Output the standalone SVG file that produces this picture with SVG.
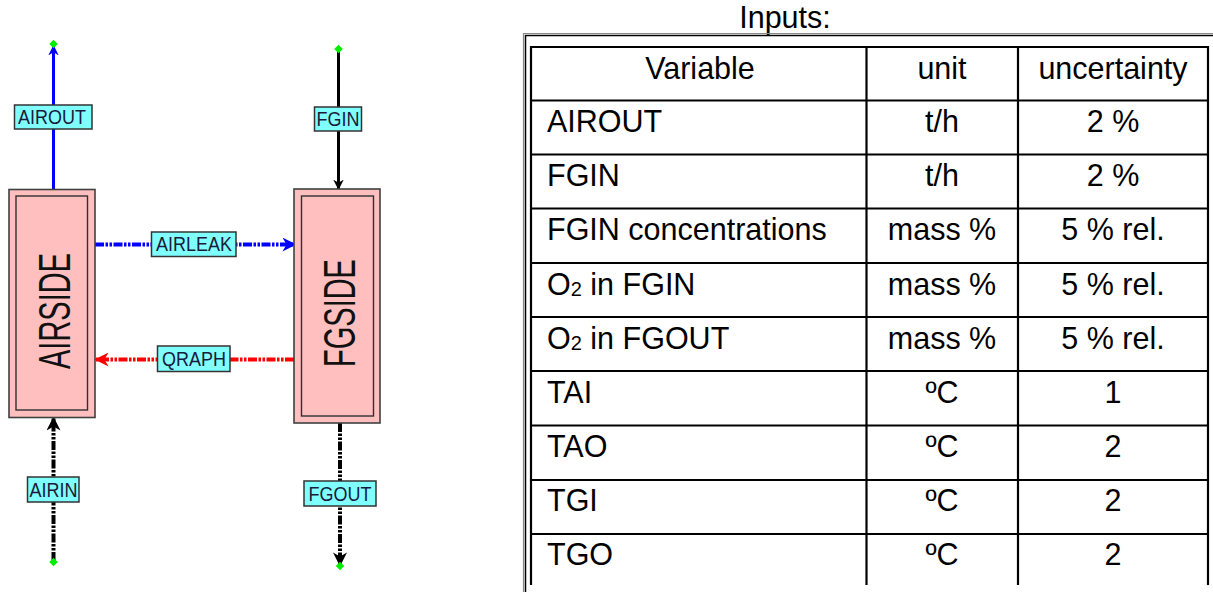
<svg xmlns="http://www.w3.org/2000/svg" width="1213" height="592" viewBox="0 0 1213 592">
<style>
.unit rect.o{fill:#ffbfbf;stroke:#404040;stroke-width:1.6}
.unit rect.i{fill:none;stroke:#303030;stroke-width:1.4}
.unit text{font-family:"Liberation Sans",Arial,sans-serif;font-size:29px;fill:#111}
.lbl rect{fill:#80ffff;stroke:#333;stroke-width:1.5}
.lbl text{font-family:"Liberation Sans",Arial,sans-serif;font-size:18px;fill:#1a1a3a;text-anchor:middle}
.dot{fill:#00ee00}
.t{font-family:"Liberation Sans",Arial,sans-serif;font-size:30.5px;fill:#000}
.c{text-anchor:middle}
.grid line{stroke:#000;stroke-width:2.2}
</style>
<defs>
<marker id="ab" viewBox="0 0 10 10" refX="9" refY="5" markerWidth="3.5" markerHeight="3.5" orient="auto" markerUnits="strokeWidth"><path d="M0,0 L10,5 L0,10 L3,5 z" fill="#0000ff"/></marker>
<marker id="ak" viewBox="0 0 10 10" refX="9" refY="5" markerWidth="3.5" markerHeight="3.5" orient="auto" markerUnits="strokeWidth"><path d="M0,0 L10,5 L0,10 L3,5 z" fill="#000"/></marker>
<marker id="ar" viewBox="0 0 10 10" refX="9" refY="5" markerWidth="3.5" markerHeight="3.5" orient="auto" markerUnits="strokeWidth"><path d="M0,0 L10,5 L0,10 L3,5 z" fill="#ff0000"/></marker>
</defs>
<rect width="1213" height="592" fill="#fff"/>

<g id="connectors" fill="none">
  <path id="c-airout" d="M53.5,190 V46" stroke="#0000ff" stroke-width="3" marker-end="url(#ab)"/>
  <path id="c-fgin" d="M338.5,49 V189" stroke="#000" stroke-width="3" marker-end="url(#ak)"/>
  <path id="c-airleak" d="M95,244.5 H295" stroke="#0000ff" stroke-width="4" stroke-dasharray="9 1.5 2.5 1.5 2.5 1.5" marker-end="url(#ab)"/>
  <path id="c-qraph" d="M294,359.5 H96" stroke="#ff0000" stroke-width="4" stroke-dasharray="9 1.5 2.5 1.5 2.5 1.5" marker-end="url(#ar)"/>
  <path id="c-airin" d="M53.5,561 V418" stroke="#000" stroke-width="4" stroke-dasharray="9 1.5 2.5 1.5 2.5 1.5" marker-end="url(#ak)"/>
  <path id="c-fgout" d="M340,423 V565" stroke="#000" stroke-width="4" stroke-dasharray="9 1.5 2.5 1.5 2.5 1.5" marker-end="url(#ak)"/>
</g>

<g id="AIRSIDE" class="unit">
  <rect class="o" x="9" y="189.5" width="86" height="228"/>
  <rect class="i" x="16" y="196" width="71.5" height="214"/>
  <text transform="translate(70,311) rotate(-90) scale(1,1.5)" text-anchor="middle">AIRSIDE</text>
</g>
<g id="FGSIDE" class="unit">
  <rect class="o" x="294" y="189" width="86" height="234"/>
  <rect class="i" x="301.5" y="196" width="72" height="220"/>
  <text transform="translate(355,313) rotate(-90) scale(1,1.5)" text-anchor="middle">FGSIDE</text>
</g>

<g id="labels">
  <g id="lbl-airout" class="lbl"><rect x="14.5" y="105" width="77.5" height="24"/><text transform="translate(52,124) scale(1,1.12)">AIROUT</text></g>
  <g id="lbl-fgin" class="lbl"><rect x="314.5" y="107" width="47" height="24"/><text transform="translate(338,126) scale(1,1.12)">FGIN</text></g>
  <g id="lbl-airleak" class="lbl"><rect x="151.5" y="232" width="84.5" height="24.5"/><text transform="translate(194,251) scale(1,1.12)">AIRLEAK</text></g>
  <g id="lbl-qraph" class="lbl"><rect x="157.5" y="346" width="72.5" height="25.5"/><text transform="translate(194,365.5) scale(1,1.12)">QRAPH</text></g>
  <g id="lbl-airin" class="lbl"><rect x="27.5" y="477" width="51.5" height="25"/><text transform="translate(53.5,496.5) scale(1,1.12)">AIRIN</text></g>
  <g id="lbl-fgout" class="lbl"><rect x="304" y="481" width="72" height="25"/><text transform="translate(340,500.5) scale(1,1.12)">FGOUT</text></g>
</g>

<g id="ports">
  <rect class="dot" x="50.5" y="41" width="6" height="6" transform="rotate(45 53.5 44)"/>
  <rect class="dot" x="335.5" y="46" width="6" height="6" transform="rotate(45 338.5 49)"/>
  <rect class="dot" x="50.5" y="559" width="6" height="6" transform="rotate(45 53.5 562)"/>
  <rect class="dot" x="337" y="563" width="6" height="6" transform="rotate(45 340 566)"/>
</g>

<g id="table">
  <text class="t c" x="785" y="28">Inputs:</text>
  <path d="M523.5,592 V33.5 H1213" fill="none" stroke="#888" stroke-width="1.2"/>
  <path d="M525.5,592 V35.5 H1213" fill="none" stroke="#000" stroke-width="1.5"/>
  <g class="grid">
    <line x1="531" y1="585" x2="531" y2="46"/>
    <line x1="866.5" y1="585" x2="866.5" y2="46"/>
    <line x1="1018" y1="585" x2="1018" y2="46"/>
    <line x1="1208" y1="585" x2="1208" y2="46"/>
    <line x1="530" y1="47" x2="1209" y2="47"/>
    <line x1="530" y1="100.5" x2="1209" y2="100.5"/>
    <line x1="530" y1="154.5" x2="1209" y2="154.5"/>
    <line x1="530" y1="208.5" x2="1209" y2="208.5"/>
    <line x1="530" y1="263" x2="1209" y2="263"/>
    <line x1="530" y1="317" x2="1209" y2="317"/>
    <line x1="530" y1="371" x2="1209" y2="371"/>
    <line x1="530" y1="425.5" x2="1209" y2="425.5"/>
    <line x1="530" y1="480" x2="1209" y2="480"/>
    <line x1="530" y1="534" x2="1209" y2="534"/>
  </g>
  <text class="t c" x="700" y="79">Variable</text>
  <text class="t c" x="942" y="79">unit</text>
  <text class="t c" x="1113" y="79">uncertainty</text>

  <text class="t" x="547" y="132">AIROUT</text>
  <text class="t c" x="942" y="132">t/h</text>
  <text class="t c" x="1113" y="132">2 %</text>

  <text class="t" x="547" y="186">FGIN</text>
  <text class="t c" x="942" y="186">t/h</text>
  <text class="t c" x="1113" y="186">2 %</text>

  <text class="t" x="547" y="240">FGIN concentrations</text>
  <text class="t c" x="942" y="240">mass %</text>
  <text class="t c" x="1113" y="240">5 % rel.</text>

  <text class="t" x="547" y="295">O<tspan font-size="20" dy="1">2</tspan><tspan dy="-1"> in FGIN</tspan></text>
  <text class="t c" x="942" y="295">mass %</text>
  <text class="t c" x="1113" y="295">5 % rel.</text>

  <text class="t" x="547" y="349">O<tspan font-size="20" dy="1">2</tspan><tspan dy="-1"> in FGOUT</tspan></text>
  <text class="t c" x="942" y="349">mass %</text>
  <text class="t c" x="1113" y="349">5 % rel.</text>

  <text class="t" x="547" y="403">TAI</text>
  <text class="t c" x="942" y="403">ºC</text>
  <text class="t c" x="1113" y="403">1</text>

  <text class="t" x="547" y="457">TAO</text>
  <text class="t c" x="942" y="457">ºC</text>
  <text class="t c" x="1113" y="457">2</text>

  <text class="t" x="547" y="511">TGI</text>
  <text class="t c" x="942" y="511">ºC</text>
  <text class="t c" x="1113" y="511">2</text>

  <text class="t" x="547" y="565">TGO</text>
  <text class="t c" x="942" y="565">ºC</text>
  <text class="t c" x="1113" y="565">2</text>
</g>
</svg>
